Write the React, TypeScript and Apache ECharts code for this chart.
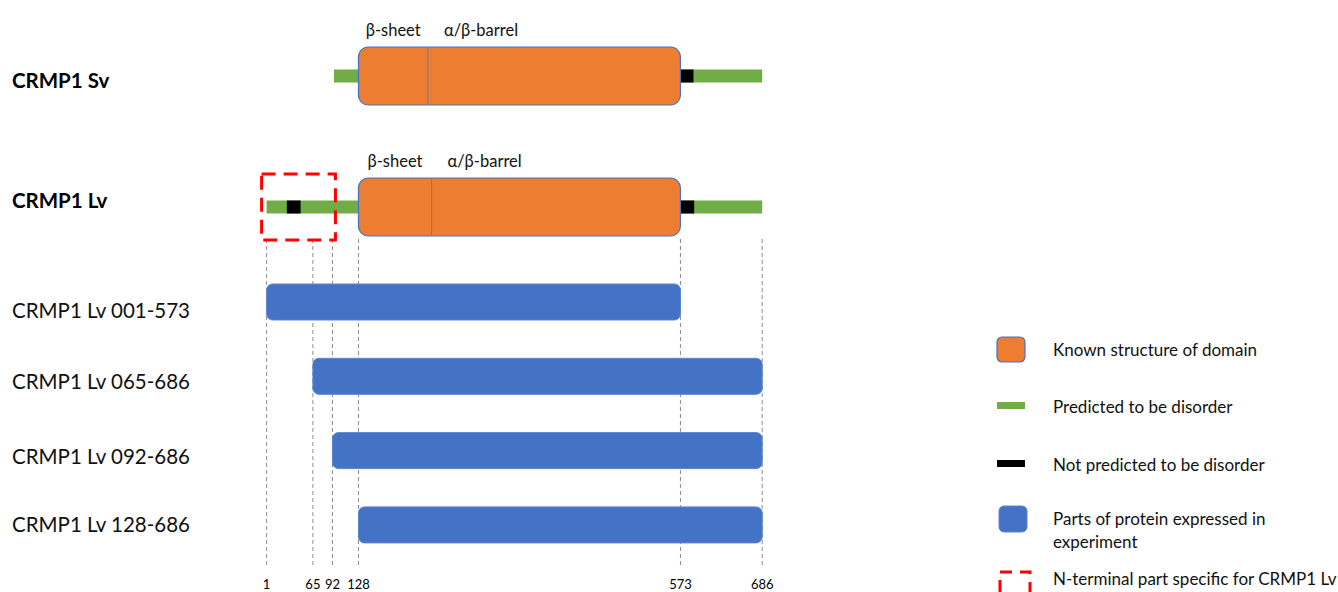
import React, { useEffect, useRef } from "react";
import * as echarts from "echarts";

// ---- data ----
const proteinRows = ["CRMP1 Sv", "CRMP1 Lv"];
// [start, end, rowIndex]
const disorderSegments = [
  [94, 686, 0],
  [1, 686, 1],
];
const orderedSegments = [
  [573, 591, 0],
  [29, 48, 1],
  [573, 592, 1],
];
// [start, split, end, rowIndex]
const domainSegments = [
  [128, 224, 573, 0],
  [128, 229, 573, 1],
];
const domainLabels = ["β-sheet", "α/β-barrel"];
const lvSpecificRegion = [[1, 92, 1]];

const constructNames = ["CRMP1 Lv 001-573", "CRMP1 Lv 065-686", "CRMP1 Lv 092-686", "CRMP1 Lv 128-686"];
const constructStart = [1, 65, 92, 128];
const constructEnd = [573, 686, 686, 686];

const residueTicks = [1, 65, 92, 128, 573, 686];

const legendLabels = [
  "Known structure of domain",
  "Predicted to be disorder",
  "Not predicted to be disorder",
  "Parts of protein expressed in\nexperiment",
  "N-terminal part specific for CRMP1 Lv",
];

const FONT = "Lato, 'DejaVu Sans', sans-serif";
const ORANGE = "#ED7D31";
const BLUE = "#4472C4";
const GREEN = "#70AD47";

export default function App() {
  const ref = useRef<HTMLDivElement>(null);

  useEffect(() => {
    if (!ref.current) return;
    const chart = echarts.init(ref.current, undefined, { renderer: "svg" });

    const gridX = { left: 266.6, width: 495.6 };
    const xBase = { type: "value", min: 1, max: 686, show: false };

    const segRender = (color: string, h: number) => (params: any, api: any) => {
      const s = api.coord([api.value(0), api.value(2)]);
      const e = api.coord([api.value(1), api.value(2)]);
      return {
        type: "rect",
        shape: { x: s[0], y: s[1] - h / 2, width: e[0] - s[0], height: h },
        style: { fill: color },
      };
    };

    const option: any = {
      animation: false,
      grid: [
        { ...gridX, top: 10.5, height: 262 },
        { ...gridX, top: 264.85, height: 297.2 },
        { ...gridX, top: 237, height: 328 },
      ],
      xAxis: [
        { ...xBase, gridIndex: 0 },
        { ...xBase, gridIndex: 1 },
        {
          type: "value",
          gridIndex: 2,
          min: 1,
          max: 686,
          axisLine: { show: false },
          axisTick: { show: false },
          splitLine: { show: false },
          axisLabel: {
            customValues: residueTicks,
            margin: 12,
            fontSize: 13,
            color: "#000",
            fontFamily: FONT,
          },
        },
      ],
      yAxis: [
        {
          type: "category",
          gridIndex: 0,
          data: proteinRows,
          inverse: true,
          axisLine: { show: false },
          axisTick: { show: false },
          axisLabel: {
            align: "left",
            margin: 266.6 - 12,
            formatter: (v: string, i: number) => (i === 0 ? `{sv|${v}}` : `{lv|${v}}`),
            rich: {
              sv: { fontSize: 20.5, fontWeight: "bold", color: "#000", fontFamily: FONT, padding: [8, 0, 0, 0] },
              lv: { fontSize: 20.5, fontWeight: "bold", color: "#000", fontFamily: FONT, padding: [0, 0, 14, 0] },
            },
          },
        },
        {
          type: "category",
          gridIndex: 1,
          data: constructNames,
          inverse: true,
          axisLine: { show: false },
          axisTick: { show: false },
          axisLabel: {
            align: "left",
            margin: 266.6 - 12,
            formatter: (v: string, i: number) => `{r${i}|${v}}`,
            rich: {
              r0: { fontSize: 20.5, color: "#111", fontFamily: FONT, padding: [16, 0, 0, 0] },
              r1: { fontSize: 20.5, color: "#111", fontFamily: FONT, padding: [10, 0, 0, 0] },
              r2: { fontSize: 20.5, color: "#111", fontFamily: FONT, padding: [10, 0, 0, 0] },
              r3: { fontSize: 20.5, color: "#111", fontFamily: FONT, padding: [0, 0, 2, 0] },
            },
          },
        },
        { type: "value", gridIndex: 2, min: 0, max: 1, show: false },
      ],
      series: [
        {
          type: "custom",
          name: "guides",
          xAxisIndex: 2,
          yAxisIndex: 2,
          data: residueTicks.map((v) => [v]),
          encode: { x: 0 },
          renderItem: (params: any, api: any) => {
            const b = api.coord([api.value(0), 0]);
            const t = api.coord([api.value(0), 1]);
            return {
              type: "line",
              shape: { x1: b[0], y1: b[1], x2: t[0], y2: t[1] },
              style: { stroke: "#8C8C8C", lineWidth: 1, lineDash: [4, 3] },
            };
          },
          z: 1,
        },
        {
          type: "custom",
          name: "Predicted to be disorder",
          xAxisIndex: 0,
          yAxisIndex: 0,
          data: disorderSegments,
          encode: { x: [0, 1], y: 2 },
          renderItem: segRender(GREEN, 13),
          z: 2,
        },
        {
          type: "custom",
          name: "Not predicted to be disorder",
          xAxisIndex: 0,
          yAxisIndex: 0,
          data: orderedSegments,
          encode: { x: [0, 1], y: 2 },
          renderItem: segRender("#000", 13),
          z: 3,
        },
        {
          type: "custom",
          name: "Known structure of domain",
          xAxisIndex: 0,
          yAxisIndex: 0,
          data: domainSegments,
          encode: { x: [0, 1, 2], y: 3 },
          renderItem: (params: any, api: any) => {
            const row = api.value(3);
            const a = api.coord([api.value(0), row]);
            const m = api.coord([api.value(1), row]);
            const b = api.coord([api.value(2), row]);
            const h = 58;
            const top = a[1] - h / 2;
            return {
              type: "group",
              children: [
                {
                  type: "rect",
                  shape: { x: a[0], y: top, width: b[0] - a[0], height: h, r: 10 },
                  style: { fill: ORANGE, stroke: BLUE, lineWidth: 1.2 },
                },
                {
                  type: "line",
                  shape: { x1: m[0], y1: top, x2: m[0], y2: top + h },
                  style: { stroke: "#6B7FAE", lineWidth: 1 },
                },
                {
                  type: "text",
                  x: (a[0] + m[0]) / 2,
                  y: top - 17,
                  style: {
                    text: domainLabels[0],
                    align: "center",
                    verticalAlign: "middle",
                    fontSize: 16.5,
                    fontFamily: FONT,
                    fill: "#111",
                  },
                },
                {
                  type: "text",
                  x: m[0] + 16,
                  y: top - 17,
                  style: {
                    text: domainLabels[1],
                    align: "left",
                    verticalAlign: "middle",
                    fontSize: 16.5,
                    fontFamily: FONT,
                    fill: "#111",
                  },
                },
              ],
            };
          },
          z: 4,
        },
        {
          type: "custom",
          name: "N-terminal part specific for CRMP1 Lv",
          xAxisIndex: 0,
          yAxisIndex: 0,
          data: lvSpecificRegion,
          encode: { x: [0, 1], y: 2 },
          renderItem: (params: any, api: any) => {
            const s = api.coord([api.value(0), api.value(2)]);
            const e = api.coord([api.value(1), api.value(2)]);
            return {
              type: "rect",
              shape: { x: s[0] - 5, y: s[1] - 33, width: e[0] - s[0] + 8, height: 66 },
              style: { fill: "none", stroke: "#FF0000", lineWidth: 3, lineDash: [14, 8] },
            };
          },
          z: 5,
        },
        {
          type: "custom",
          name: "Parts of protein expressed in experiment",
          xAxisIndex: 1,
          yAxisIndex: 1,
          data: constructNames.map((n, i) => [constructStart[i], constructEnd[i], i]),
          encode: { x: [0, 1], y: 2 },
          renderItem: (params: any, api: any) => {
            const s = api.coord([api.value(0), api.value(2)]);
            const e = api.coord([api.value(1), api.value(2)]);
            const h = 36;
            return {
              type: "rect",
              shape: { x: s[0], y: s[1] - h / 2, width: e[0] - s[0], height: h, r: 6 },
              style: { fill: BLUE, stroke: "#5A85CF", lineWidth: 1 },
            };
          },
          z: 3,
        },
      ],
      graphic: [
        {
          type: "rect",
          shape: { x: 997, y: 337, width: 28, height: 25, r: 5 },
          style: { fill: ORANGE, stroke: BLUE, lineWidth: 1.2 },
        },
        { type: "rect", shape: { x: 997, y: 402, width: 28, height: 7 }, style: { fill: GREEN } },
        { type: "rect", shape: { x: 997, y: 460, width: 28, height: 7 }, style: { fill: "#000" } },
        {
          type: "rect",
          shape: { x: 999, y: 506, width: 28, height: 26, r: 5 },
          style: { fill: BLUE, stroke: "#5A85CF", lineWidth: 1 },
        },
        {
          type: "rect",
          shape: { x: 1000, y: 572, width: 30, height: 40 },
          style: { fill: "none", stroke: "#FF0000", lineWidth: 3, lineDash: [12, 8] },
        },
        ...legendLabels.map((t, i) => ({
          type: "text",
          x: 1053,
          y: [349, 406, 464, 507, 578][i],
          style: {
            text: t,
            fontSize: 17,
            fontFamily: FONT,
            fill: "#111",
            align: "left",
            verticalAlign: i === 3 ? "top" : "middle",
            lineHeight: 23,
          },
        })),
      ],
    };

    chart.setOption(option);
    return () => chart.dispose();
  }, []);

  return (
    <div
      ref={ref}
      style={{ position: "fixed", left: 0, top: 0, width: 1338, height: 592, background: "#fff" }}
    />
  );
}
